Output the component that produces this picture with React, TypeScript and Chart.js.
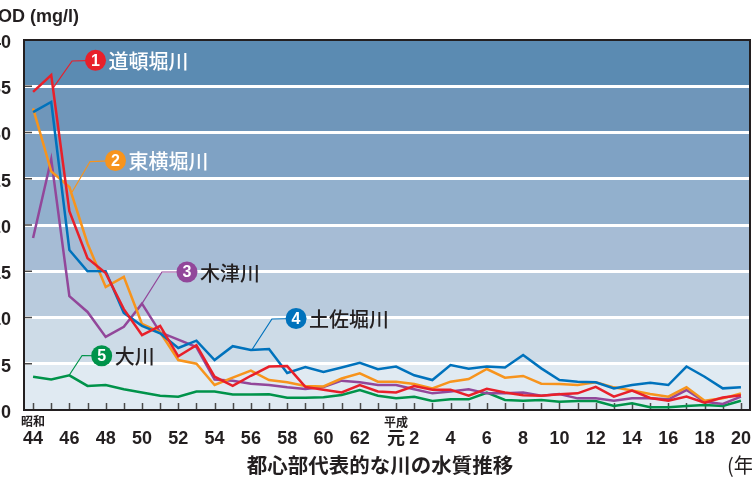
import { useEffect, useRef } from 'react';
import { Chart, registerables } from 'chart.js';

Chart.register(...registerables);

// Years 1969 (昭和44) .. 2008 (平成20)
const years = [
  '1969', '1970', '1971', '1972', '1973', '1974', '1975', '1976', '1977', '1978',
  '1979', '1980', '1981', '1982', '1983', '1984', '1985', '1986', '1987', '1988',
  '1989', '1990', '1991', '1992', '1993', '1994', '1995', '1996', '1997', '1998',
  '1999', '2000', '2001', '2002', '2003', '2004', '2005', '2006', '2007', '2008',
];

const xTickLabels = [
  '44', '', '46', '', '48', '', '50', '', '52', '', '54', '', '56', '', '58', '', '60', '', '62', '',
  '元', '2', '', '4', '', '6', '', '8', '', '10', '', '12', '', '14', '', '16', '', '18', '', '20',
];

// BOD (mg/l)
const dotonbori = [
  34.4, 36.2, 21.5, 16.4, 14.8, 10.9, 8.1, 9.1, 5.8, 7.0,
  3.6, 2.6, 3.7, 4.7, 4.75, 2.5, 2.2, 1.9, 2.7, 2.0,
  1.9, 2.6, 2.2, 2.2, 1.55, 2.3, 1.9, 1.6, 1.55, 1.7,
  1.8, 2.5, 1.45, 2.1, 1.3, 1.0, 1.45, 0.8, 1.35, 1.6,
];
const tosabori = [
  32.2, 33.3, 17.3, 15.0, 15.0, 10.5, 9.1, 8.3, 6.7, 7.5,
  5.4, 6.9, 6.5, 6.6, 4.0, 4.65, 4.1, 4.6, 5.1, 4.4,
  4.7, 3.75, 3.24, 4.86, 4.45, 4.7, 4.6, 5.95, 4.5, 3.24,
  3.06, 3.0, 2.34, 2.7, 2.95, 2.7, 4.7, 3.6, 2.34, 2.45,
];
const higashiyokobori = [
  32.6, 25.8, 24.1, 18.0, 13.3, 14.4, 9.3, 8.4, 5.4, 5.0,
  2.7, 3.5, 4.25, 3.24, 3.0, 2.6, 2.55, 3.4, 3.96, 3.06,
  3.06, 2.8, 2.34, 3.06, 3.35, 4.43, 3.5, 3.68, 2.85, 2.8,
  2.7, 3.0, 2.45, 2.1, 1.73, 1.44, 2.45, 1.0, 1.26, 1.8,
];
const kizugawa = [
  18.6, 27.1, 12.3, 10.6, 7.9, 9.0, 11.5, 8.4, 7.6, 6.8,
  3.3, 3.15, 2.85, 2.7, 2.45, 2.27, 2.48, 3.17, 3.0, 2.7,
  2.7, 2.24, 1.8, 2.0, 2.24, 1.8, 1.8, 1.9, 1.55, 1.73,
  1.26, 1.26, 1.0, 1.26, 1.26, 1.15, 2.16, 0.9, 0.65, 1.44,
];
const okawa = [
  3.6, 3.3, 3.75, 2.6, 2.7, 2.24, 1.9, 1.55, 1.44, 2.0,
  2.0, 1.68, 1.68, 1.7, 1.33, 1.33, 1.38, 1.62, 2.16, 1.55,
  1.26, 1.44, 0.97, 1.15, 1.15, 1.87, 1.08, 1.0, 1.08, 0.9,
  0.97, 0.97, 0.43, 0.72, 0.29, 0.29, 0.43, 0.54, 0.43, 1.0,
];

const seriesNames = ['道頓堀川', '土佐堀川', '東横堀川', '木津川', '大川'];
const seriesNumbers = ['1', '4', '2', '3', '5'];
const seriesColors = ['#e8202a', '#0072bc', '#f7941d', '#92479a', '#00934a'];
const seriesValues = [dotonbori, tosabori, higashiyokobori, kizugawa, okawa];
const labelTextColors = ['#ffffff', '#231f20', '#ffffff', '#231f20', '#231f20'];
// callout anchors in data space: [categoryIndex, value]
const calloutCircle = [[3.44, 37.8], [14.49, 9.89], [4.54, 26.97], [8.48, 14.92], [3.78, 5.86]];
const calloutElbow = [[2.15, 37.73], [13.16, 9.84], [3.14, 26.86], [7.1, 14.92], [2.7, 5.89]];
const calloutTip = [[1.1, 34.8], [12.05, 6.49], [2.15, 23.57], [6.0, 11.5], [1.98, 3.73]];

// band fills from bottom (0-5) to top (35-40)
const bandColors = ['#e0eaf2', '#cddbe7', '#b9cbdd', '#a6bcd5', '#92b0cd', '#7fa2c4', '#6f96ba', '#5b8bb2'];
const yTickValues = [0, 5, 10, 15, 20, 25, 30, 35, 40];

const SHIFT = 20;
const W = 752 + SHIFT;
const H = 483;
const TEXT = '#231f20';
const LATIN = '"Liberation Sans", Arial, "Noto Sans CJK JP", sans-serif';
const CJK = '"Noto Sans CJK JP", "Liberation Sans", sans-serif';

const decor = {
  id: 'decor',
  beforeDraw(chart: any) {
    const { ctx, chartArea: a, scales } = chart;
    const y = scales.y;
    ctx.save();
    for (let i = 0; i < bandColors.length; i++) {
      const bot = y.getPixelForValue(yTickValues[i]);
      const top = y.getPixelForValue(yTickValues[i + 1]);
      ctx.fillStyle = bandColors[i];
      ctx.fillRect(a.left, top, a.right - a.left, bot - top);
    }
    ctx.restore();
  },
  beforeDatasetsDraw(chart: any) {
    const { ctx, chartArea: a, scales } = chart;
    const { x, y } = scales;
    ctx.save();
    ctx.strokeStyle = '#4a4a4a';
    ctx.lineWidth = 1.5;
    for (let i = 0; i < years.length; i++) {
      const px = Math.round(x.getPixelForValue(i)) + 0.5;
      ctx.beginPath();
      ctx.moveTo(px, a.bottom);
      ctx.lineTo(px, a.bottom - 7);
      ctx.stroke();
    }
    for (let k = 1; k < yTickValues.length - 1; k++) {
      const py = y.getPixelForValue(yTickValues[k]);
      ctx.beginPath();
      ctx.moveTo(a.left, py);
      ctx.lineTo(a.left + 8, py);
      ctx.stroke();
    }
    ctx.strokeStyle = TEXT;
    ctx.lineWidth = 2;
    ctx.strokeRect(a.left, a.top, a.right - a.left, a.bottom - a.top);
    ctx.restore();
  },
  afterDraw(chart: any) {
    const { ctx, chartArea: a, scales } = chart;
    const { x, y } = scales;
    ctx.save();
    // callouts
    for (let s = 0; s < seriesNames.length; s++) {
      const c = [x.getPixelForValue(calloutCircle[s][0]), y.getPixelForValue(calloutCircle[s][1])];
      const e = [x.getPixelForValue(calloutElbow[s][0]), y.getPixelForValue(calloutElbow[s][1])];
      const t = [x.getPixelForValue(calloutTip[s][0]), y.getPixelForValue(calloutTip[s][1])];
      ctx.strokeStyle = seriesColors[s];
      ctx.lineWidth = 1.2;
      ctx.beginPath();
      ctx.moveTo(c[0], c[1]);
      ctx.lineTo(e[0], e[1]);
      ctx.lineTo(t[0], t[1]);
      ctx.stroke();
      ctx.fillStyle = seriesColors[s];
      ctx.beginPath();
      ctx.arc(c[0], c[1], 10.5, 0, Math.PI * 2);
      ctx.fill();
      ctx.fillStyle = '#ffffff';
      ctx.font = `bold 16px ${LATIN}`;
      ctx.textAlign = 'center';
      ctx.textBaseline = 'middle';
      ctx.fillText(seriesNumbers[s], c[0], c[1] + 1);
      ctx.fillStyle = labelTextColors[s];
      ctx.font = `500 20px ${CJK}`;
      ctx.textAlign = 'left';
      ctx.fillText(seriesNames[s], c[0] + 13, c[1] + 1);
    }
    // era markers
    ctx.fillStyle = TEXT;
    ctx.font = `bold 12px ${CJK}`;
    ctx.textAlign = 'center';
    ctx.textBaseline = 'middle';
    ctx.fillText('昭和', x.getPixelForValue(0), a.bottom + 11);
    ctx.fillText('平成', x.getPixelForValue(20), a.bottom + 12);
    // axis titles
    ctx.font = `bold 20.5px ${CJK}`;
    ctx.fillText('都心部代表的な川の水質推移', 380 + SHIFT, 465);
    ctx.font = `20px ${CJK}`;
    ctx.textAlign = 'left';
    ctx.fillText('(年)', 727 + SHIFT, 465);
    ctx.font = `bold 18px ${LATIN}`;
    ctx.textBaseline = 'alphabetic';
    const bw = ctx.measureText('B').width;
    ctx.fillText('BOD (mg/l)', SHIFT - 2 - bw, 22);
    ctx.restore();
  },
};

export default function App() {
  const ref = useRef<HTMLCanvasElement>(null);
  useEffect(() => {
    const canvas = ref.current;
    if (!canvas) return;
    const chart = new Chart(canvas, {
      type: 'line',
      data: {
        labels: years,
        datasets: seriesNames.map((name, i) => ({
          label: name,
          data: seriesValues[i],
          borderColor: seriesColors[i],
          backgroundColor: seriesColors[i],
          borderWidth: 2.5,
          pointRadius: 0,
          tension: 0,
          fill: false,
        })),
      },
      options: {
        animation: false,
        responsive: false,
        maintainAspectRatio: false,
        layout: { padding: { top: 40, right: 2, left: 0, bottom: 0 } },
        plugins: { legend: { display: false }, tooltip: { enabled: false } },
        scales: {
          x: {
            offset: true,
            grid: { display: false, drawTicks: false },
            border: { display: false },
            ticks: {
              autoSkip: false,
              maxRotation: 0,
              minRotation: 0,
              padding: 18,
              color: TEXT,
              font: { family: LATIN, size: 18, weight: 'bold' },
              callback: (_v: any, i: number) => xTickLabels[i],
            },
            afterFit: (s: any) => {
              s.height = 73;
              s.paddingLeft = 0;
              s.paddingRight = 0;
            },
          },
          y: {
            min: 0,
            max: 40,
            grid: {
              drawTicks: false,
              lineWidth: 3,
              color: (c: any) => (c.tick && (c.tick.value === 0 || c.tick.value === 40) ? 'rgba(0,0,0,0)' : '#ffffff'),
            },
            border: { display: false },
            ticks: {
              stepSize: 5,
              padding: 13,
              labelOffset: 3,
              color: TEXT,
              font: { family: LATIN, size: 18, weight: 'bold' },
            },
            afterFit: (s: any) => {
              s.width = 44;
              s.paddingTop = 0;
              s.paddingBottom = 0;
            },
          },
        },
      },
      plugins: [decor],
    } as any);
    return () => chart.destroy();
  }, []);

  return (
    <div style={{ position: 'absolute', left: 0, top: 0, width: 752, height: 483, overflow: 'hidden', background: '#fff' }}>
      <canvas
        ref={ref}
        width={W}
        height={H}
        style={{ position: 'absolute', left: -SHIFT, top: 0, width: W, height: H }}
      />
    </div>
  );
}
